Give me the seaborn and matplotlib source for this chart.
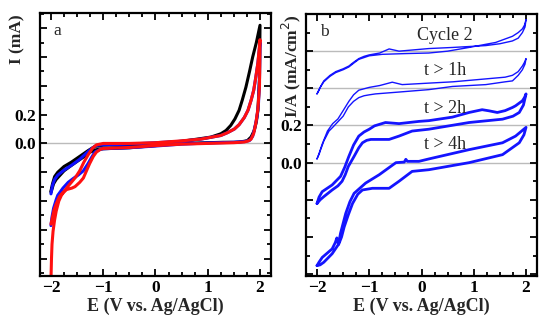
import numpy as np
import pandas as pd
import matplotlib
matplotlib.use('Agg')
import matplotlib.pyplot as plt
import seaborn as sns
from matplotlib.ticker import MultipleLocator, FuncFormatter

# ── Data ──────────────────────────────────────────────────
# panel a: three CV loops, current in mA
black_E = [-2.0, -1.95, -1.9, -1.75, -1.6, -1.4, -1.25, -1.1, -1.0, -0.5, 0.0, 0.5, 1.0, 1.3, 1.5, 1.6, 1.7, 1.76, 1.83, 1.89, 1.93, 1.96, 1.99, 2.0,
           1.93, 1.86, 1.8, 1.73, 1.66, 1.6, 1.52, 1.44, 1.35, 1.25, 1.06, 0.8, 0.5, 0.0, -0.5, -1.0, -1.13, -1.2, -1.29, -1.45, -1.61, -1.75, -1.87, -1.93, -1.97, -2.0]
black_I = [-0.34, -0.28, -0.25, -0.19, -0.15, -0.10, -0.06, -0.04, -0.037, -0.03, -0.015, 0.0, 0.005, 0.008, 0.008, 0.01, 0.015, 0.02, 0.045, 0.09, 0.15, 0.23, 0.45, 0.82,
           0.70, 0.60, 0.50, 0.39, 0.30, 0.23, 0.17, 0.125, 0.09, 0.067, 0.044, 0.03, 0.015, 0.0, -0.01, -0.012, -0.018, -0.03, -0.05, -0.09, -0.13, -0.16, -0.20, -0.23, -0.28, -0.33]

blue_E = [-2.0, -1.98, -1.95, -1.9, -1.87, -1.77, -1.67, -1.58, -1.48, -1.38, -1.29, -1.22, -1.16, -1.05, -1.0, -0.5, 0.0, 0.5, 1.0, 1.5, 1.7, 1.8, 1.86, 1.9, 1.94, 1.97, 1.99, 2.0,
          1.96, 1.92, 1.88, 1.83, 1.77, 1.7, 1.6, 1.51, 1.38, 1.25, 0.87, 0.5, 0.0, -0.5, -1.0, -1.1, -1.15, -1.22, -1.3, -1.45, -1.6, -1.75, -1.87, -1.93, -1.97, -2.0]
blue_I = [-0.57, -0.51, -0.45, -0.39, -0.36, -0.31, -0.27, -0.245, -0.22, -0.19, -0.14, -0.095, -0.06, -0.04, -0.037, -0.03, -0.018, -0.005, 0.003, 0.008, 0.013, 0.02, 0.05, 0.11, 0.18, 0.27, 0.45, 0.70,
          0.56, 0.46, 0.37, 0.30, 0.23, 0.18, 0.13, 0.10, 0.075, 0.055, 0.03, 0.015, 0.005, -0.005, -0.01, -0.012, -0.018, -0.035, -0.06, -0.11, -0.15, -0.185, -0.22, -0.25, -0.29, -0.35]

red_E = [-2.0, -1.97, -1.94, -1.9, -1.84, -1.77, -1.7, -1.6, -1.54, -1.45, -1.38, -1.32, -1.26, -1.19, -1.13, -1.05, -1.0, -0.5, 0.0, 0.5, 1.0, 1.5, 1.7, 1.78, 1.83, 1.88, 1.92, 1.96, 1.99, 2.0,
         1.96, 1.92, 1.88, 1.83, 1.77, 1.7, 1.6, 1.51, 1.38, 1.25, 0.87, 0.5, 0.0, -0.5, -1.0, -1.13, -1.21, -1.29, -1.37, -1.45, -1.53, -1.61, -1.68, -1.74, -1.8, -1.85, -1.9, -1.93, -1.96, -1.98, -1.99, -2.0]
red_I = [-0.56, -0.51, -0.46, -0.42, -0.37, -0.34, -0.32, -0.31, -0.30, -0.27, -0.24, -0.19, -0.14, -0.09, -0.06, -0.04, -0.035, -0.028, -0.015, -0.005, 0.0, 0.005, 0.01, 0.018, 0.03, 0.07, 0.14, 0.24, 0.40, 0.72,
         0.56, 0.46, 0.37, 0.30, 0.23, 0.18, 0.13, 0.10, 0.075, 0.055, 0.03, 0.018, 0.005, 0.0, 0.0, -0.01, -0.035, -0.08, -0.13, -0.19, -0.235, -0.27, -0.30, -0.33, -0.36, -0.40, -0.47, -0.53, -0.61, -0.70, -0.80, -0.95]

# panel b: CV loops offset by 0.2 mA/cm2 each
cyc2_E = [-2.0, -1.96, -1.93, -1.87, -1.75, -1.64, -1.5, -1.39, -1.3, -1.2, -1.1, -1.0, -0.8, -0.62, -0.43, 0.14, 0.6, 1.23, 1.5, 1.74, 1.85, 1.93, 1.98, 2.0,
          1.97, 1.93, 1.85, 1.74, 1.42, 0.91, 0.5, 0.14, -0.3, -0.75, -1.0, -1.2, -1.3, -1.39, -1.5, -1.64, -1.75, -1.87, -1.95, -2.0]
cyc2_I = [0.37, 0.39, 0.41, 0.44, 0.47, 0.49, 0.505, 0.52, 0.54, 0.56, 0.572, 0.58, 0.59, 0.612, 0.60, 0.614, 0.62, 0.63, 0.64, 0.655, 0.67, 0.70, 0.73, 0.77,
          0.74, 0.72, 0.70, 0.68, 0.647, 0.62, 0.60, 0.59, 0.587, 0.583, 0.575, 0.556, 0.535, 0.515, 0.50, 0.485, 0.465, 0.435, 0.40, 0.37]

h1_E = [-2.0, -1.96, -1.93, -1.87, -1.77, -1.7, -1.6, -1.5, -1.4, -1.3, -1.2, -1.1, -1.0, -0.88, -0.43, 0.14, 0.59, 1.23, 1.6, 1.74, 1.85, 1.93, 1.98, 2.0,
        1.97, 1.93, 1.85, 1.74, 1.6, 1.2, 0.6, 0.14, -0.37, -0.56, -0.8, -1.0, -1.2, -1.3, -1.39, -1.5, -1.6, -1.7, -1.8, -1.9, -1.96, -2.0]
h1_I = [0.02, 0.045, 0.07, 0.116, 0.17, 0.19, 0.22, 0.25, 0.30, 0.33, 0.35, 0.36, 0.365, 0.37, 0.38, 0.393, 0.41, 0.42, 0.435, 0.44, 0.47, 0.50, 0.53, 0.56,
        0.54, 0.52, 0.49, 0.47, 0.46, 0.45, 0.435, 0.428, 0.42, 0.433, 0.415, 0.405, 0.39, 0.365, 0.33, 0.28, 0.235, 0.21, 0.17, 0.10, 0.05, 0.02]

h2_E = [-2.0, -1.94, -1.87, -1.71, -1.6, -1.52, -1.46, -1.4, -1.29, -1.2, -1.13, -1.05, -0.97, -0.62, -0.43, -0.18, 0.14, 0.91, 1.55, 1.75, 1.87, 1.95, 2.0,
        1.97, 1.93, 1.8, 1.74, 1.6, 1.45, 1.29, 1.16, 0.91, 0.59, 0.14, -0.05, -0.43, -0.69, -0.9, -1.0, -1.1, -1.2, -1.3, -1.39, -1.47, -1.55, -1.71, -1.9, -1.96, -2.0]
h2_I = [-0.22, -0.20, -0.183, -0.147, -0.125, -0.10, -0.065, -0.02, 0.034, 0.08, 0.107, 0.12, 0.125, 0.125, 0.143, 0.17, 0.18, 0.216, 0.234, 0.25, 0.27, 0.31, 0.37,
        0.35, 0.333, 0.306, 0.297, 0.28, 0.27, 0.279, 0.285, 0.27, 0.245, 0.226, 0.222, 0.21, 0.216, 0.198, 0.18, 0.165, 0.143, 0.095, 0.034, -0.025, -0.074, -0.12, -0.156, -0.185, -0.22]

h4_E = [-2.0, -1.94, -1.87, -1.71, -1.58, -1.53, -1.48, -1.4, -1.32, -1.22, -1.13, -0.94, -0.62, -0.43, -0.18, 0.14, 0.91, 1.55, 1.87, 1.96, 2.0,
        1.8, 1.55, 0.91, 0.14, -0.05, -0.27, -0.3, -0.33, -0.49, -0.81, -1.07, -1.29, -1.37, -1.45, -1.55, -1.59, -1.62, -1.65, -1.71, -1.9, -1.96, -2.0]
h4_I = [-0.554, -0.55, -0.536, -0.49, -0.436, -0.40, -0.346, -0.28, -0.22, -0.17, -0.147, -0.138, -0.138, -0.10, -0.047, -0.038, 0.0, 0.043, 0.107, 0.15, 0.19,
        0.143, 0.107, 0.07, 0.02, 0.007, 0.007, 0.018, 0.003, 0.0, -0.065, -0.11, -0.165, -0.21, -0.273, -0.38, -0.44, -0.405, -0.43, -0.464, -0.51, -0.535, -0.554]

b_baselines = [0.0, 0.2, 0.4, 0.6]
b_labels = ['Cycle 2', 't > 1h', 't > 2h', 't > 4h']
b_label_y = [0.685, 0.495, 0.29, 0.10]

# ── Style ─────────────────────────────────────────────────
sns.set_style('ticks')
plt.rcParams['font.family'] = ['Liberation Serif', 'DejaVu Serif']
plt.rcParams['font.size'] = 12

fig = plt.figure(figsize=(5.5, 3.3), dpi=100)
ax_a = fig.add_axes([0.0727, 0.1636, 0.42, 0.797])
ax_b = fig.add_axes([0.5564, 0.1636, 0.42, 0.794])

def only_labels(v, pos):
    if abs(v) < 1e-6: return '0.0'
    if abs(v - 0.2) < 1e-6: return '0.2'
    return ''

def style_axes(ax):
    ax.xaxis.set_major_locator(MultipleLocator(1))
    ax.xaxis.set_minor_locator(MultipleLocator(0.25))
    ax.yaxis.set_major_locator(MultipleLocator(0.2))
    ax.yaxis.set_minor_locator(MultipleLocator(0.1))
    ax.yaxis.set_major_formatter(FuncFormatter(only_labels))
    ax.tick_params(which='both', direction='in', top=True, right=True, width=1.3, colors='black')
    ax.tick_params(which='major', length=5, labelsize=12.5, pad=3)
    ax.tick_params(which='minor', length=3)
    for lab in ax.get_xticklabels() + ax.get_yticklabels():
        lab.set_fontweight('bold')
    for s in ax.spines.values():
        s.set_linewidth(1.6); s.set_color('black')
    ax.set_xlim(-2.21, 2.21)
    ax.set_xlabel('E (V vs. Ag/AgCl)', fontweight='bold', fontsize=13, labelpad=1)

# ── Panel a ───────────────────────────────────────────────
ax_a.axhline(0, color='#bbbbbb', lw=1, zorder=0)
for E, I, c in [(black_E, black_I, 'black'), (blue_E, blue_I, '#1010ff'), (red_E, red_I, '#ff1010')]:
    sns.lineplot(x=E, y=I, sort=False, estimator=None, color=c, lw=2.2, ax=ax_a,
                 solid_joinstyle='round', solid_capstyle='round')
ax_a.set_ylim(-0.92, 0.905)
style_axes(ax_a)
ax_a.set_ylabel('I (mA)', fontweight='bold', fontsize=12.5)
ax_a.yaxis.set_label_coords(-0.065, 0.90)
ax_a.text(0.06, 0.93, 'a', transform=ax_a.transAxes, fontsize=12.5, va='center')

# ── Panel b ───────────────────────────────────────────────
for b in b_baselines:
    ax_b.axhline(b, color='#bbbbbb', lw=1, zorder=0)
for E, I, lw in [(cyc2_E, cyc2_I, 1.0), (h1_E, h1_I, 1.0), (h2_E, h2_I, 2.0), (h4_E, h4_I, 2.0)]:
    sns.lineplot(x=E, y=I, sort=False, estimator=None, color='#1414ff', lw=lw, ax=ax_b,
                 solid_joinstyle='round', solid_capstyle='round')
for lab, y in zip(b_labels, b_label_y):
    ax_b.text(0.45, y, lab, fontsize=13, ha='center', va='center')
ax_b.set_ylim(-0.61, 0.80)
style_axes(ax_b)
ax_b.set_ylabel('I/A (mA/cm$^2$)', fontweight='bold', fontsize=12.5)
ax_b.yaxis.set_label_coords(-0.015, 0.80)
ax_b.text(0.06, 0.93, 'b', transform=ax_b.transAxes, fontsize=12.5, va='center')

fig.savefig('out.png', dpi=100)
